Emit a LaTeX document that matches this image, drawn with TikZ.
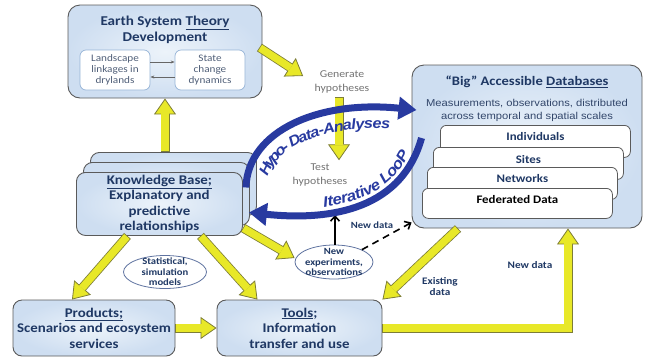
\documentclass[tikz,border=0pt]{standalone}
\usepackage{fontspec}
\setmainfont{Carlito}[FakeStretch=1.12]
\newfontfamily\arialfont{Liberation Sans}[FakeStretch=1.12]
\usetikzlibrary{arrows.meta,decorations.text,shapes.geometric}

\newcommand{\uln}[1]{\underline{#1}}

\definecolor{boxcore}{RGB}{236,243,250}
\definecolor{boxedge}{RGB}{206,222,241}
\definecolor{boxline}{RGB}{90,90,90}
\definecolor{titleblue}{RGB}{31,56,100}
\definecolor{greyblue}{RGB}{80,95,120}
\definecolor{ovalline}{RGB}{95,115,160}
\definecolor{yfill}{RGB}{232,232,40}
\definecolor{yedge}{RGB}{125,125,55}
\definecolor{loopblue}{RGB}{40,58,160}
\definecolor{innerline}{RGB}{150,180,215}

\tikzset{
  bigbox/.style={draw=boxline, inner color=boxcore, outer color=boxedge, rounded corners=10pt, line width=0.9pt},
  kbbox/.style={bigbox, rounded corners=9pt, minimum width=166pt, minimum height=63pt, anchor=north west},
  innerbox/.style={draw=innerline, fill=white, rounded corners=6pt, line width=0.7pt,
    minimum width=70pt, minimum height=40pt, align=center, text=greyblue,
    font=\fontsize{10}{11}\selectfont},
  dbbox/.style={draw=boxline, fill=white, rounded corners=6pt, line width=0.8pt,
    anchor=north west, minimum width=190pt, minimum height=32pt},
  dblabel/.style={text=titleblue, font=\bfseries\fontsize{11.5}{13}\selectfont},
  boxtext/.style={text=titleblue, align=center, font=\bfseries\fontsize{13.3}{15.5}\selectfont},
  oval/.style={ellipse, draw=ovalline, fill=white, line width=0.8pt},
  note/.style={text=titleblue, align=center, font=\bfseries\fontsize{9.5}{10.5}\selectfont},
  hyptext/.style={text=black!55, align=center, font=\fontsize{10.5}{14}\selectfont},
  yarrow/.style={draw=yedge, line width=9pt,
    -{Triangle[length=16pt, width=22pt, fill=yfill, line width'=0.8pt]},
    postaction={draw=yfill, line width=7.4pt, -, shorten >=15pt, shorten <=0.8pt}},
  looparrow/.style={draw=loopblue, line width=7pt, -{Triangle[length=18pt, width=22pt]}},
  thinarrow/.style={draw=black!60, line width=0.8pt, -{Stealth[length=4pt]}},
  blackarrow/.style={draw=black, line width=1.6pt, -{Straight Barb[length=5pt, width=9pt]}},
}

\begin{document}
\begin{tikzpicture}[x=1pt, y=-1pt]
\useasboundingbox (0,0) rectangle (645,360);

% theory box
\node[bigbox, rounded corners=12pt, minimum width=194pt, minimum height=93pt] (theory) at (165,51.5) {};
\node[boxtext, font=\bfseries\fontsize{13.5}{16}\selectfont] (theorytitle) at (165,30) {Earth System \uln{Theory}\\Development};
\node[innerbox] (landscape) at (115,70) {Landscape\\linkages in\\drylands};
\node[innerbox] (statechange) at (210,70) {State\\change\\dynamics};
\draw[thinarrow] ([yshift=8]landscape.east) -- ([yshift=8]statechange.west);
\draw[thinarrow] ([yshift=-7]statechange.west) -- ([yshift=-7]landscape.east);

% hypotheses
\node[hyptext] (generate) at (342,82) {Generate\\hypotheses};
\node[hyptext] (test) at (320,175) {Test\\hypotheses};

% databases
\node[bigbox, rounded corners=12pt, minimum width=230pt, minimum height=163pt] (db) at (527,146.5) {};
\node[boxtext, font=\bfseries\fontsize{13}{15}\selectfont] (dbtitle) at (527,82) {“Big” Accessible \uln{Databases}};
\node[text=titleblue!80!gray, align=center, font=\arialfont\fontsize{10}{13}\selectfont] (dbnote) at (527,110.5)
  {Measurements, observations, distributed\\across temporal and spatial scales};
\node[dbbox] (indiv) at (440,125) {};
\node[dblabel] (indivlabel) at ([yshift=-12]indiv.north) {Individuals};
\node[dbbox] (sites) at (433,147) {};
\node[dblabel] (siteslabel) at ([yshift=-12]sites.north) {Sites};
\node[dbbox] (networks) at (427,167) {};
\node[dblabel] (networkslabel) at ([yshift=-12]networks.north) {Networks};
\node[dbbox, minimum height=30pt] (federated) at (422,188) {};
\node[dblabel, text=black] (federatedlabel) at ([yshift=-11]federated.north) {Federated Data};

% knowledge base stack
\node[kbbox] (kbback) at (90,152) {};
\node[kbbox] (kbmid) at (83,162) {};
\node[kbbox] (kb) at (76,172) {};
\node[boxtext] (kbtext) at (kb.center) {\uln{Knowledge Base;}\\Explanatory and\\predictive\\relationships};

% bottom boxes
\node[bigbox, boxtext, rounded corners=9pt, minimum width=162pt, minimum height=56pt] (products) at (94,328)
  {\uln{Products;}\\Scenarios and ecosystem\\services};
\node[bigbox, boxtext, rounded corners=9pt, minimum width=165pt, minimum height=56pt] (tools) at (299.5,328)
  {\uln{Tools};\\Information\\transfer and use};

% ovals
\node[oval, minimum width=83pt, minimum height=33pt] (models) at (165,272) {};
\node[note] (modelstext) at (models.center) {Statistical,\\simulation\\models};
\node[oval, minimum width=78pt, minimum height=34pt] (newexp) at (334,262) {};
\node[note] (newexptext) at (newexp.center) {New\\experiments,\\observations};

% yellow arrows
\draw[yarrow] (theory.south |- kbback.north) -- (theory.south);
\draw[yarrow] ([xshift=-3,yshift=4]theory.east) -- ([xshift=-8,yshift=6]generate.west);
\draw[yarrow] ([xshift=-3]generate.south) -- ([xshift=-3]generate.south |- test.north);
\draw[yarrow] ([xshift=-32]kb.south) -- ([xshift=-22]products.north);
\draw[yarrow] ([xshift=41]kb.south) -- ([xshift=-42]tools.north);
\draw[yarrow] ([yshift=-24]kb.east) -- ([yshift=4]newexp.west);
\draw[yarrow] (products.east) -- (tools.west);
\draw[yarrow] ([xshift=-69]db.south) -- (tools.north east);
\draw[yarrow] (tools.east) -| ([xshift=41]db.south);

% data labels
\node[note, font=\bfseries\fontsize{10}{11}\selectfont] (existing) at (440,287) {Existing\\data};
\node[note, font=\bfseries\fontsize{10}{11}\selectfont] (newdatalow) at (530,265) {New data};
\node[note] (newdataup) at (372,225) {New data};

% new experiments feed the loop and the databases
\coordinate (loopfoot) at (335,215);
\draw[blackarrow] (newexp.north -| loopfoot) -- (loopfoot);
\draw[blackarrow, dash pattern=on 7pt off 5pt] (newexp.north east) -- ([yshift=6]db.south west);

% iterative loop
\draw[looparrow] ([xshift=-4,yshift=6.5]kbmid.east) .. controls (248,130) and (320,100) .. ([xshift=5,yshift=36.5]db.west);
\draw[looparrow] ([xshift=10,yshift=8.5]db.west) .. controls (400,215) and (320,220) .. ([xshift=-1,yshift=-18.5]kbmid.east);
\path[decorate, decoration={text along path, raise=-20pt, text align={left, left indent=20pt},
    text={|\arialfont\bfseries\itshape\fontsize{14.5}{14.5}\selectfont\color{loopblue}|Hypo- Data-Analyses}}]
  ([xshift=-4,yshift=6.5]kbmid.east) .. controls (248,130) and (320,100) .. ([xshift=5,yshift=36.5]db.west);
\path[decorate, decoration={text along path, raise=6pt, text align={right, right indent=20pt},
    text={|\arialfont\bfseries\itshape\fontsize{15}{15}\selectfont\color{loopblue}|Iterative LooP}}]
  ([xshift=-1,yshift=-18.5]kbmid.east) .. controls (320,220) and (400,215) .. ([xshift=10,yshift=8.5]db.west);
\end{tikzpicture}
\end{document}
